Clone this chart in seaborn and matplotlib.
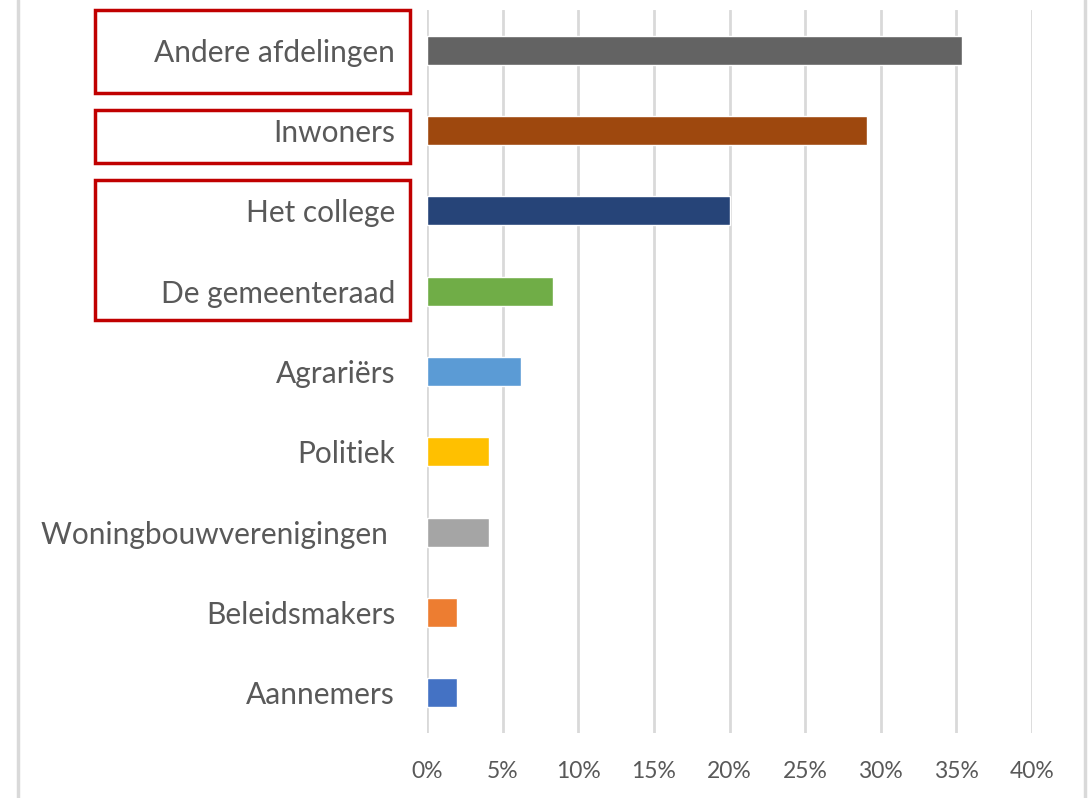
import matplotlib
matplotlib.use('Agg')
import matplotlib.pyplot as plt
import seaborn as sns
import pandas as pd
from matplotlib.patches import Rectangle
from matplotlib.lines import Line2D
from matplotlib.ticker import PercentFormatter

# data, top to bottom as in the chart
categories = ['Andere afdelingen', 'Inwoners', 'Het college', 'De gemeenteraad',
              'Agrariërs', 'Politiek', 'Woningbouwverenigingen ', 'Beleidsmakers', 'Aannemers']
shares = [0.354, 0.291, 0.200, 0.083, 0.062, 0.041, 0.041, 0.020, 0.020]
bar_colors = ['#636363', '#9E480E', '#264478', '#70AD47', '#5B9BD5',
              '#FFC000', '#A5A5A5', '#ED7D31', '#4472C4']
x_ticks = [0, 0.05, 0.10, 0.15, 0.20, 0.25, 0.30, 0.35, 0.40]

df = pd.DataFrame({'cat': categories, 'share': shares})

sns.set_style('white')
plt.rcParams['font.family'] = ['Lato', 'DejaVu Sans']

W, H = 1092, 798
fig = plt.figure(figsize=(W / 100, H / 100), dpi=100)
ax = fig.add_axes([427 / W, 1 - 733 / H, (1032 - 427) / W, (733 - 10) / H])

sns.barplot(data=df, y='cat', x='share', hue='cat', palette=bar_colors,
            order=categories, hue_order=categories, legend=False,
            width=0.36, saturation=1, ax=ax)

ax.set_xlim(0, 0.40)
ax.set_ylim(8.5, -0.5)
ax.set_xticks(x_ticks)
ax.xaxis.set_major_formatter(PercentFormatter(1.0, decimals=0))
ax.grid(axis='x', color='#d9d9d9', linewidth=2)
ax.set_axisbelow(True)
for s in ax.spines.values():
    s.set_visible(False)
ax.set_xlabel('')
ax.set_ylabel('')
ax.tick_params(axis='y', length=0, pad=23, labelsize=21.5, labelcolor='#595959')
ax.tick_params(axis='x', length=0, pad=20, labelsize=16.5, labelcolor='#595959')

# frame lines at figure edges
fig.add_artist(Line2D([18 / W, 18 / W], [0, 1], color='#d9d9d9', linewidth=2.5))
fig.add_artist(Line2D([1085 / W, 1085 / W], [0, 1], color='#d9d9d9', linewidth=2.5))

# red highlight boxes around labels
for top, bottom in [(10, 93), (110, 163), (180, 320)]:
    fig.add_artist(Rectangle((95 / W, 1 - bottom / H), (410 - 95) / W, (bottom - top) / H,
                             fill=False, edgecolor='#C00000', linewidth=2.5))

fig.savefig('out.png', dpi=100, facecolor='white')
